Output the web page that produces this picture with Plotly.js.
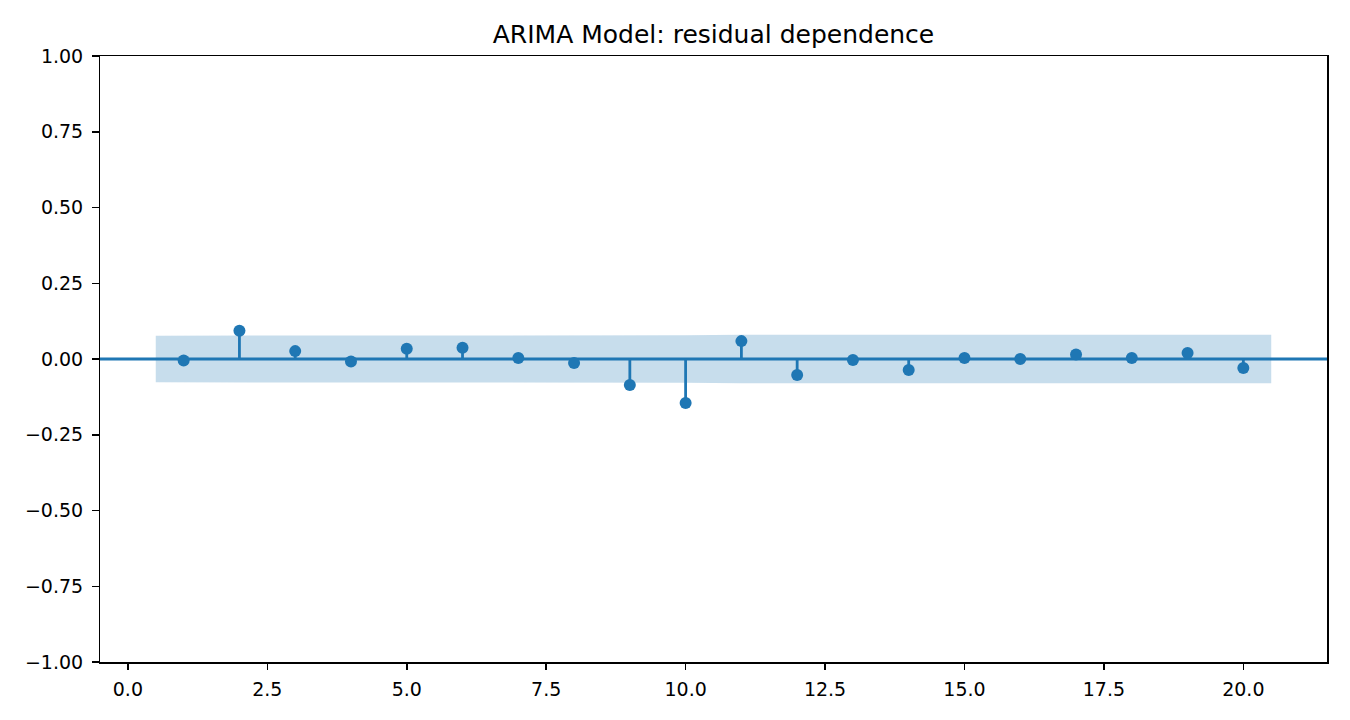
<!DOCTYPE html>
<html>
<head>
<meta charset="utf-8">
<script src="https://cdn.plot.ly/plotly-3.0.1.min.js"></script>
<style>
html, body {margin: 0; padding: 0; background: #fff;}
#plot {width: 1350px; height: 720px;}
</style>
</head>
<body>
<div id="plot"></div>
<script>
// Residual autocorrelation, lags 1..20.
var lags = [1, 2, 3, 4, 5, 6, 7, 8, 9, 10, 11, 12, 13, 14, 15, 16, 17, 18, 19, 20];
var acf = [-0.005, 0.093, 0.026, -0.008, 0.034, 0.037, 0.003, -0.013, -0.086, -0.145,
  0.059, -0.053, -0.003, -0.036, 0.003, 0.000, 0.015, 0.003, 0.020, -0.030];
// Half width of the confidence band at each lag.
var band = [0.077, 0.077, 0.078, 0.078, 0.078, 0.078, 0.078, 0.078, 0.078, 0.078,
  0.080, 0.080, 0.080, 0.080, 0.080, 0.080, 0.080, 0.080, 0.080, 0.080];
var yticks = [-1.0, -0.75, -0.5, -0.25, 0.0, 0.25, 0.5, 0.75, 1.0];
var xticks = [0.0, 2.5, 5.0, 7.5, 10.0, 12.5, 15.0, 17.5, 20.0];

var blue = '#1f77b4';
var font = 'DejaVu Sans, sans-serif';

// Band ends are pushed half a lag outwards.
var band_x = lags.slice();
band_x[0] -= 0.5;
band_x[band_x.length - 1] += 0.5;
var band_up = band.map(function (v) { return v; });
var band_lo = band.map(function (v) { return -v; });

// Stems: one segment per lag from 0 to the value.
var stem_x = [], stem_y = [];
for (var i = 0; i < lags.length; ++i) {
  stem_x.push(lags[i], lags[i], null);
  stem_y.push(0, acf[i], null);
}

var traces = [{
  x: band_x, y: band_up,
  mode: 'lines', line: {width: 0, color: 'rgba(31,119,180,0)'},
  showlegend: false, hoverinfo: 'skip'
}, {
  x: band_x, y: band_lo,
  mode: 'lines', line: {width: 0, color: 'rgba(31,119,180,0)'},
  fill: 'tonexty', fillcolor: 'rgba(31,119,180,0.25)',
  showlegend: false, hoverinfo: 'skip'
}, {
  x: stem_x, y: stem_y,
  mode: 'lines', line: {color: blue, width: 2.8},
  showlegend: false, hoverinfo: 'skip'
}, {
  x: lags, y: acf,
  mode: 'markers', marker: {color: blue, size: 12},
  showlegend: false
}];

var layout = {
  width: 1350,
  height: 720,
  margin: {l: 100, r: 23, t: 56, b: 58},
  paper_bgcolor: '#fff',
  plot_bgcolor: '#fff',
  font: {family: font, size: 19, color: '#000'},
  title: {
    text: 'ARIMA Model: residual dependence',
    font: {family: font, size: 25, color: '#000'},
    x: 0.5, xref: 'paper', xanchor: 'center',
    y: 1, yref: 'paper', yanchor: 'bottom',
    pad: {b: 13}
  },
  xaxis: {
    range: [-0.5, 21.5],
    tickvals: xticks,
    tickformat: '.1f',
    ticks: 'outside', ticklen: 6.5, tickwidth: 1.5, tickcolor: '#000',
    ticklabelstandoff: 3,
    showgrid: false, zeroline: false,
    showline: true, linecolor: '#000', linewidth: 1.5, mirror: true
  },
  yaxis: {
    range: [-1, 1],
    tickvals: yticks,
    tickformat: '.2f',
    ticks: 'outside', ticklen: 6.5, tickwidth: 1.5, tickcolor: '#000',
    ticklabelstandoff: 5,
    showgrid: false, zeroline: false,
    showline: true, linecolor: '#000', linewidth: 1.5, mirror: true
  },
  shapes: [{
    // horizontal line at zero across the whole axis
    type: 'line', xref: 'paper', yref: 'y',
    x0: 0, x1: 1, y0: 0, y1: 0,
    line: {color: blue, width: 2.8},
    layer: 'below'
  }]
};

Plotly.newPlot('plot', traces, layout, {displayModeBar: false, staticPlot: true});
</script>
</body>
</html>
